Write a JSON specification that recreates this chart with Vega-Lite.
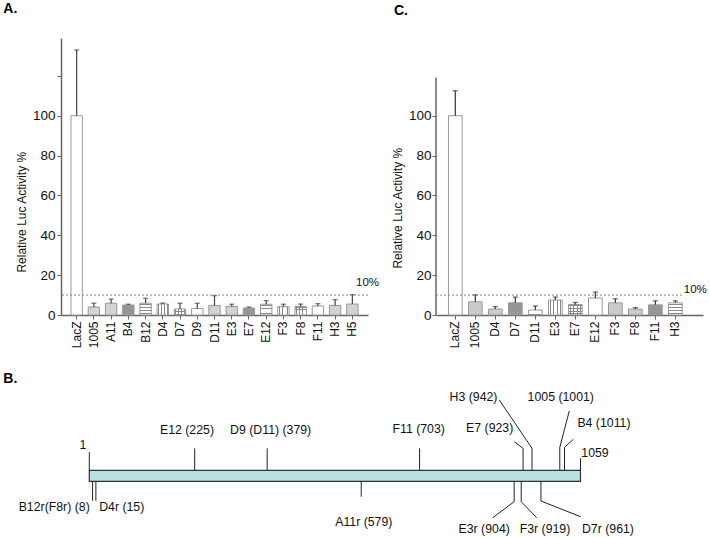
{
  "$schema": "https://vega.github.io/schema/vega-lite/v6.json",
  "background": "white",
  "padding": {"left": 3, "top": 2, "right": 2, "bottom": 2},
  "config": {
    "font": "Liberation Sans",
    "view": {"stroke": null},
    "axis": {"grid": false, "domainColor": "#666", "tickColor": "#666", "labelColor": "#111", "titleColor": "#111", "titleFontWeight": "normal"}
  },
  "datasets": {
    "A": [
      {"name": "LacZ", "value": 100, "err": 133, "pattern": "white"},
      {"name": "1005", "value": 4.0, "err": 5.9, "pattern": "dots"},
      {"name": "A11", "value": 5.9, "err": 8.0, "pattern": "dots"},
      {"name": "B4", "value": 5.0, "err": 5.4, "pattern": "dark"},
      {"name": "B12", "value": 5.9, "err": 8.4, "pattern": "hstripe"},
      {"name": "D4", "value": 5.5, "err": 6.0, "pattern": "vstripe"},
      {"name": "D7", "value": 3.0, "err": 5.9, "pattern": "grid"},
      {"name": "D9", "value": 3.3, "err": 5.9, "pattern": "white"},
      {"name": "D11", "value": 4.8, "err": 9.7, "pattern": "dots"},
      {"name": "E3", "value": 4.3, "err": 5.4, "pattern": "dots"},
      {"name": "E7", "value": 3.5, "err": 4.0, "pattern": "dark"},
      {"name": "E12", "value": 5.4, "err": 7.2, "pattern": "hstripe"},
      {"name": "F3", "value": 4.2, "err": 5.4, "pattern": "vstripe"},
      {"name": "F8", "value": 4.3, "err": 5.5, "pattern": "grid"},
      {"name": "F11", "value": 4.5, "err": 5.7, "pattern": "white"},
      {"name": "H3", "value": 4.8, "err": 7.7, "pattern": "dots"},
      {"name": "H5", "value": 5.5, "err": 10.2, "pattern": "dots"}
    ],
    "C": [
      {"name": "LacZ", "value": 100, "err": 112.5, "pattern": "white"},
      {"name": "1005", "value": 6.6, "err": 10.1, "pattern": "light"},
      {"name": "D4", "value": 3.0, "err": 4.2, "pattern": "light"},
      {"name": "D7", "value": 6.1, "err": 9.0, "pattern": "dark"},
      {"name": "D11", "value": 2.5, "err": 4.5, "pattern": "hstripe"},
      {"name": "E3", "value": 7.5, "err": 9.0, "pattern": "vstripe"},
      {"name": "E7", "value": 5.3, "err": 6.3, "pattern": "grid"},
      {"name": "E12", "value": 8.5, "err": 11.5, "pattern": "white"},
      {"name": "F3", "value": 6.1, "err": 8.1, "pattern": "light"},
      {"name": "F8", "value": 3.0, "err": 3.7, "pattern": "light"},
      {"name": "F11", "value": 5.1, "err": 7.1, "pattern": "dark"},
      {"name": "H3", "value": 6.1, "err": 7.1, "pattern": "hstripe"}
    ],
    "gene": [{"start": 1, "end": 1045}],
    "segs": [
      {"x1": 1, "y1": 1, "x2": 1, "y2": 2.64},
      {"x1": 225, "y1": 1, "x2": 225, "y2": 3.0},
      {"x1": 379, "y1": 1, "x2": 379, "y2": 3.0},
      {"x1": 703, "y1": 1, "x2": 703, "y2": 3.0},
      {"x1": 923, "y1": 1, "x2": 923, "y2": 3.0},
      {"x1": 923, "y1": 3.0, "x2": 904.3, "y2": 3.6},
      {"x1": 942, "y1": 1, "x2": 942, "y2": 3.0},
      {"x1": 942, "y1": 3.0, "x2": 872.4, "y2": 7.39},
      {"x1": 1001, "y1": 1, "x2": 1001, "y2": 3.09},
      {"x1": 1001, "y1": 3.09, "x2": 1021.2, "y2": 6.39},
      {"x1": 1011, "y1": 1, "x2": 1011, "y2": 3.09},
      {"x1": 1011, "y1": 3.09, "x2": 1029.7, "y2": 3.82},
      {"x1": 1045, "y1": 1, "x2": 1045, "y2": 2.09},
      {"x1": 8, "y1": 0, "x2": 8, "y2": -1.76},
      {"x1": 15, "y1": 0, "x2": 15, "y2": -1.76},
      {"x1": 579, "y1": 0, "x2": 579, "y2": -1.4},
      {"x1": 904, "y1": 0, "x2": 904, "y2": -1.85},
      {"x1": 904, "y1": -1.85, "x2": 858.4, "y2": -3.31},
      {"x1": 919, "y1": 0, "x2": 919, "y2": -1.85},
      {"x1": 919, "y1": -1.85, "x2": 951.9, "y2": -3.31},
      {"x1": 961, "y1": 0, "x2": 961, "y2": -1.79},
      {"x1": 961, "y1": -1.79, "x2": 1045.4, "y2": -3.22}
    ],
    "labels": [
      {"label": "1", "lx": -12.4, "ly": 3.3},
      {"label": "E12 (225)", "lx": 208.6, "ly": 4.66},
      {"label": "D9 (D11) (379)", "lx": 386.5, "ly": 4.66},
      {"label": "F11 (703)", "lx": 701.1, "ly": 4.73},
      {"label": "E7 (923)", "lx": 852.0, "ly": 4.82},
      {"label": "H3 (942)", "lx": 817.6, "ly": 7.64},
      {"label": "1005 (1001)", "lx": 1003.1, "ly": 7.64},
      {"label": "B4 (1011)", "lx": 1094.9, "ly": 5.3},
      {"label": "1059", "lx": 1075.8, "ly": 2.55},
      {"label": "B12r(F8r) (8)", "lx": -73.6, "ly": -2.31},
      {"label": "D4r (15)", "lx": 69.9, "ly": -2.31},
      {"label": "A11r (579)", "lx": 584.4, "ly": -3.67},
      {"label": "E3r (904)", "lx": 840.3, "ly": -4.31},
      {"label": "F3r (919)", "lx": 969.5, "ly": -4.31},
      {"label": "D7r (961)", "lx": 1103.4, "ly": -4.31}
    ]
  },
  "spacing": 24,
  "vconcat": [
    {
      "bounds": "flush",
      "spacing": 68,
      "hconcat": [
        {
          "width": 307,
          "height": 277,
          "title": {"text": "A.", "anchor": "start", "frame": "group", "dx": -57.7, "offset": 22, "fontSize": 14, "fontWeight": "bold", "color": "#000"},
          "resolve": {"scale": {"x": "independent"}},
          "layer": [
            {
              "data": {"name": "A"},
              "encoding": {
                "x": {"field": "name", "type": "nominal", "title": null,
                  "scale": {"type": "band", "domain": ["LacZ", "1005", "A11", "B4", "B12", "D4", "D7", "D9", "D11", "E3", "E7", "E12", "F3", "F8", "F11", "H3", "H5"], "paddingInner": 0.34, "paddingOuter": 0.578},
                  "axis": {"labelAngle": -90, "labelFontSize": 12, "tickSize": 4, "tickWidth": 1, "domainWidth": 1.5, "labelPadding": 2}},
                "y": {"field": "value", "type": "quantitative", "title": "Relative Luc Activity %",
                  "scale": {"domain": [0, 139], "nice": false},
                  "axis": {"values": [0, 10, 20, 30, 40, 50, 60, 70, 80, 90, 100, 110, 120, 130], "labelExpr": "datum.value % 20 == 0 && datum.value <= 100 ? datum.label : ''", "labelOverlap": false, "labelFontSize": 13.5, "tickSize": 4, "tickWidth": 1, "domainWidth": 1.5, "labelPadding": 2, "titleFontSize": 12, "titleX": -40, "titleY": 173.7, "titleAngle": -90, "titleAlign": "center", "titleBaseline": "middle"}}
              },
              "layer": [
                {"mark": {"type": "bar"},
                 "encoding": {"fill": {"field": "pattern", "type": "nominal", "legend": null,
                   "scale": {"domain": ["white", "dots", "dark", "light", "hstripe", "vstripe", "grid"], "range": ["#ffffff", "#d3d3d3", "#969696", "#cbcbcb", "#ffffff", "#ffffff", "#ffffff"]}}}},
                {"transform": [{"filter": "datum.pattern == 'hstripe' || datum.pattern == 'grid'"}],
                 "mark": {"type": "bar", "fill": {"gradient": "linear", "x1": 0, "y1": 0, "x2": 0, "y2": 1, "stops": [
                   {"offset": 0, "color": "rgba(255,255,255,0)"}, {"offset": 0.1, "color": "rgba(255,255,255,0)"}, {"offset": 0.1, "color": "#8a8a8a"}, {"offset": 0.17, "color": "#8a8a8a"}, {"offset": 0.17, "color": "rgba(255,255,255,0)"},
                   {"offset": 0.35, "color": "rgba(255,255,255,0)"}, {"offset": 0.35, "color": "#8a8a8a"}, {"offset": 0.42, "color": "#8a8a8a"}, {"offset": 0.42, "color": "rgba(255,255,255,0)"},
                   {"offset": 0.6, "color": "rgba(255,255,255,0)"}, {"offset": 0.6, "color": "#8a8a8a"}, {"offset": 0.67, "color": "#8a8a8a"}, {"offset": 0.67, "color": "rgba(255,255,255,0)"},
                   {"offset": 0.85, "color": "rgba(255,255,255,0)"}, {"offset": 0.85, "color": "#8a8a8a"}, {"offset": 0.92, "color": "#8a8a8a"}, {"offset": 0.92, "color": "rgba(255,255,255,0)"}, {"offset": 1, "color": "rgba(255,255,255,0)"}]}},
                 "encoding": {}},
                {"transform": [{"filter": "datum.pattern == 'vstripe' || datum.pattern == 'grid'"}],
                 "mark": {"type": "bar", "fill": {"gradient": "linear", "x1": 0, "y1": 0, "x2": 1, "y2": 0, "stops": [
                   {"offset": 0, "color": "rgba(255,255,255,0)"}, {"offset": 0.1, "color": "rgba(255,255,255,0)"}, {"offset": 0.1, "color": "#8a8a8a"}, {"offset": 0.17, "color": "#8a8a8a"}, {"offset": 0.17, "color": "rgba(255,255,255,0)"},
                   {"offset": 0.35, "color": "rgba(255,255,255,0)"}, {"offset": 0.35, "color": "#8a8a8a"}, {"offset": 0.42, "color": "#8a8a8a"}, {"offset": 0.42, "color": "rgba(255,255,255,0)"},
                   {"offset": 0.6, "color": "rgba(255,255,255,0)"}, {"offset": 0.6, "color": "#8a8a8a"}, {"offset": 0.67, "color": "#8a8a8a"}, {"offset": 0.67, "color": "rgba(255,255,255,0)"},
                   {"offset": 0.85, "color": "rgba(255,255,255,0)"}, {"offset": 0.85, "color": "#8a8a8a"}, {"offset": 0.92, "color": "#8a8a8a"}, {"offset": 0.92, "color": "rgba(255,255,255,0)"}, {"offset": 1, "color": "rgba(255,255,255,0)"}]}},
                 "encoding": {}},
                {"mark": {"type": "bar", "filled": false, "stroke": "#999", "strokeWidth": 1}, "encoding": {}},
                {"mark": {"type": "rule", "stroke": "#444", "strokeWidth": 1.2},
                 "encoding": {"y": {"field": "value", "type": "quantitative", "title": "Relative Luc Activity %"}, "y2": {"field": "err"}}},
                {"mark": {"type": "tick", "color": "#444", "size": 5, "thickness": 1.3},
                 "encoding": {"y": {"field": "err", "type": "quantitative", "title": "Relative Luc Activity %"}}}
              ]
            },
            {
              "data": {"values": [{}]},
              "layer": [
                {"mark": {"type": "rule", "stroke": "#888", "strokeWidth": 1, "strokeDash": [2, 2]},
                 "encoding": {"y": {"datum": 10, "type": "quantitative"}}},
                {"mark": {"type": "text", "text": "10%", "align": "left", "baseline": "middle", "fontSize": 11.5, "color": "#111"},
                 "encoding": {"x": {"datum": 0.961, "type": "quantitative", "scale": {"domain": [0, 1], "nice": false, "zero": false}, "axis": null}, "y": {"datum": 16.2, "type": "quantitative"}}}
              ]
            }
          ]
        },
        {
          "width": 267,
          "height": 277,
          "title": {"text": "C.", "anchor": "start", "frame": "group", "dx": -42, "offset": 20, "fontSize": 14, "fontWeight": "bold", "color": "#000"},
          "resolve": {"scale": {"x": "independent"}},
          "layer": [
            {
              "data": {"name": "C"},
              "encoding": {
                "x": {"field": "name", "type": "nominal", "title": null,
                  "scale": {"type": "band", "domain": ["LacZ", "1005", "D4", "D7", "D11", "E3", "E7", "E12", "F3", "F8", "F11", "H3"], "paddingInner": 0.315, "paddingOuter": 0.83, "align": 0.375},
                  "axis": {"labelAngle": -90, "labelFontSize": 12, "tickSize": 4, "tickWidth": 1, "domainWidth": 1.5, "labelPadding": 2}},
                "y": {"field": "value", "type": "quantitative", "title": "Relative Luc Activity %",
                  "scale": {"domain": [0, 139], "nice": false},
                  "axis": {"domain": false, "values": [0, 10, 20, 30, 40, 50, 60, 70, 80, 90, 100, 110], "labelExpr": "datum.value % 20 == 0 && datum.value <= 100 ? datum.label : ''", "labelOverlap": false, "labelFontSize": 13.5, "tickSize": 4, "tickWidth": 1, "labelPadding": 1, "titleFontSize": 12, "titleX": -38.5, "titleY": 169.7, "titleAngle": -90, "titleAlign": "center", "titleBaseline": "middle"}}
              },
              "layer": [
                {"mark": {"type": "bar"},
                 "encoding": {"fill": {"field": "pattern", "type": "nominal", "legend": null,
                   "scale": {"domain": ["white", "dots", "dark", "light", "hstripe", "vstripe", "grid"], "range": ["#ffffff", "#d3d3d3", "#969696", "#cbcbcb", "#ffffff", "#ffffff", "#ffffff"]}}}},
                {"transform": [{"filter": "datum.pattern == 'hstripe' || datum.pattern == 'grid'"}],
                 "mark": {"type": "bar", "fill": {"gradient": "linear", "x1": 0, "y1": 0, "x2": 0, "y2": 1, "stops": [
                   {"offset": 0, "color": "rgba(255,255,255,0)"}, {"offset": 0.1, "color": "rgba(255,255,255,0)"}, {"offset": 0.1, "color": "#8a8a8a"}, {"offset": 0.17, "color": "#8a8a8a"}, {"offset": 0.17, "color": "rgba(255,255,255,0)"},
                   {"offset": 0.35, "color": "rgba(255,255,255,0)"}, {"offset": 0.35, "color": "#8a8a8a"}, {"offset": 0.42, "color": "#8a8a8a"}, {"offset": 0.42, "color": "rgba(255,255,255,0)"},
                   {"offset": 0.6, "color": "rgba(255,255,255,0)"}, {"offset": 0.6, "color": "#8a8a8a"}, {"offset": 0.67, "color": "#8a8a8a"}, {"offset": 0.67, "color": "rgba(255,255,255,0)"},
                   {"offset": 0.85, "color": "rgba(255,255,255,0)"}, {"offset": 0.85, "color": "#8a8a8a"}, {"offset": 0.92, "color": "#8a8a8a"}, {"offset": 0.92, "color": "rgba(255,255,255,0)"}, {"offset": 1, "color": "rgba(255,255,255,0)"}]}},
                 "encoding": {}},
                {"transform": [{"filter": "datum.pattern == 'vstripe' || datum.pattern == 'grid'"}],
                 "mark": {"type": "bar", "fill": {"gradient": "linear", "x1": 0, "y1": 0, "x2": 1, "y2": 0, "stops": [
                   {"offset": 0, "color": "rgba(255,255,255,0)"}, {"offset": 0.1, "color": "rgba(255,255,255,0)"}, {"offset": 0.1, "color": "#8a8a8a"}, {"offset": 0.17, "color": "#8a8a8a"}, {"offset": 0.17, "color": "rgba(255,255,255,0)"},
                   {"offset": 0.35, "color": "rgba(255,255,255,0)"}, {"offset": 0.35, "color": "#8a8a8a"}, {"offset": 0.42, "color": "#8a8a8a"}, {"offset": 0.42, "color": "rgba(255,255,255,0)"},
                   {"offset": 0.6, "color": "rgba(255,255,255,0)"}, {"offset": 0.6, "color": "#8a8a8a"}, {"offset": 0.67, "color": "#8a8a8a"}, {"offset": 0.67, "color": "rgba(255,255,255,0)"},
                   {"offset": 0.85, "color": "rgba(255,255,255,0)"}, {"offset": 0.85, "color": "#8a8a8a"}, {"offset": 0.92, "color": "#8a8a8a"}, {"offset": 0.92, "color": "rgba(255,255,255,0)"}, {"offset": 1, "color": "rgba(255,255,255,0)"}]}},
                 "encoding": {}},
                {"mark": {"type": "bar", "filled": false, "stroke": "#999", "strokeWidth": 1}, "encoding": {}},
                {"mark": {"type": "rule", "stroke": "#333", "strokeWidth": 1.2},
                 "encoding": {"y": {"field": "value", "type": "quantitative", "title": "Relative Luc Activity %"}, "y2": {"field": "err"}}},
                {"mark": {"type": "tick", "color": "#333", "size": 5, "thickness": 1.3},
                 "encoding": {"y": {"field": "err", "type": "quantitative", "title": "Relative Luc Activity %"}}}
              ]
            },
            {
              "data": {"values": [{}]},
              "layer": [
                {"mark": {"type": "rule", "stroke": "#666", "strokeWidth": 1.5},
                 "encoding": {"x": {"datum": 0, "type": "quantitative", "scale": {"domain": [0, 1], "nice": false, "zero": false}, "axis": null}, "y": {"datum": 0, "type": "quantitative"}, "y2": {"datum": 119}}},
                {"mark": {"type": "rule", "stroke": "#888", "strokeWidth": 1, "strokeDash": [2, 2]},
                 "encoding": {"x": {"datum": 0, "type": "quantitative", "scale": {"domain": [0, 1], "nice": false, "zero": false}, "axis": null}, "x2": {"datum": 0.925}, "y": {"datum": 10, "type": "quantitative"}}},
                {"mark": {"type": "text", "text": "10%", "align": "left", "baseline": "middle", "fontSize": 11.5, "color": "#111"},
                 "encoding": {"x": {"datum": 0.928, "type": "quantitative", "scale": {"domain": [0, 1], "nice": false, "zero": false}, "axis": null}, "y": {"datum": 12.4, "type": "quantitative"}}}
              ]
            }
          ]
        }
      ]
    },
    {
      "width": 642,
      "height": 145,
      "title": {"text": "B.", "anchor": "start", "frame": "group", "dx": -57.7, "offset": 4, "fontSize": 14, "fontWeight": "bold", "color": "#000"},
      "layer": [
        {"data": {"name": "gene"},
         "mark": {"type": "rect", "fill": "#b9e0e2", "stroke": "#333", "strokeWidth": 1.2},
         "encoding": {
           "x": {"field": "start", "type": "quantitative", "scale": {"domain": [-59.15, 1305.4], "nice": false, "zero": false}, "axis": null},
           "x2": {"field": "end"},
           "y": {"datum": 0, "type": "quantitative", "scale": {"domain": [-4.88, 8.3], "nice": false, "zero": false}, "axis": null},
           "y2": {"datum": 1}}},
        {"data": {"name": "segs"},
         "mark": {"type": "rule", "stroke": "#222", "strokeWidth": 1},
         "encoding": {
           "x": {"field": "x1", "type": "quantitative", "scale": {"domain": [-59.15, 1305.4], "nice": false, "zero": false}, "axis": null},
           "x2": {"field": "x2"},
           "y": {"field": "y1", "type": "quantitative", "scale": {"domain": [-4.88, 8.3], "nice": false, "zero": false}, "axis": null},
           "y2": {"field": "y2"}}},
        {"data": {"name": "labels"},
         "mark": {"type": "text", "fontSize": 12.3, "align": "center", "baseline": "middle", "color": "#111"},
         "encoding": {
           "x": {"field": "lx", "type": "quantitative", "scale": {"domain": [-59.15, 1305.4], "nice": false, "zero": false}, "axis": null},
           "y": {"field": "ly", "type": "quantitative", "scale": {"domain": [-4.88, 8.3], "nice": false, "zero": false}, "axis": null},
           "text": {"field": "label"}}}
      ]
    }
  ]
}
